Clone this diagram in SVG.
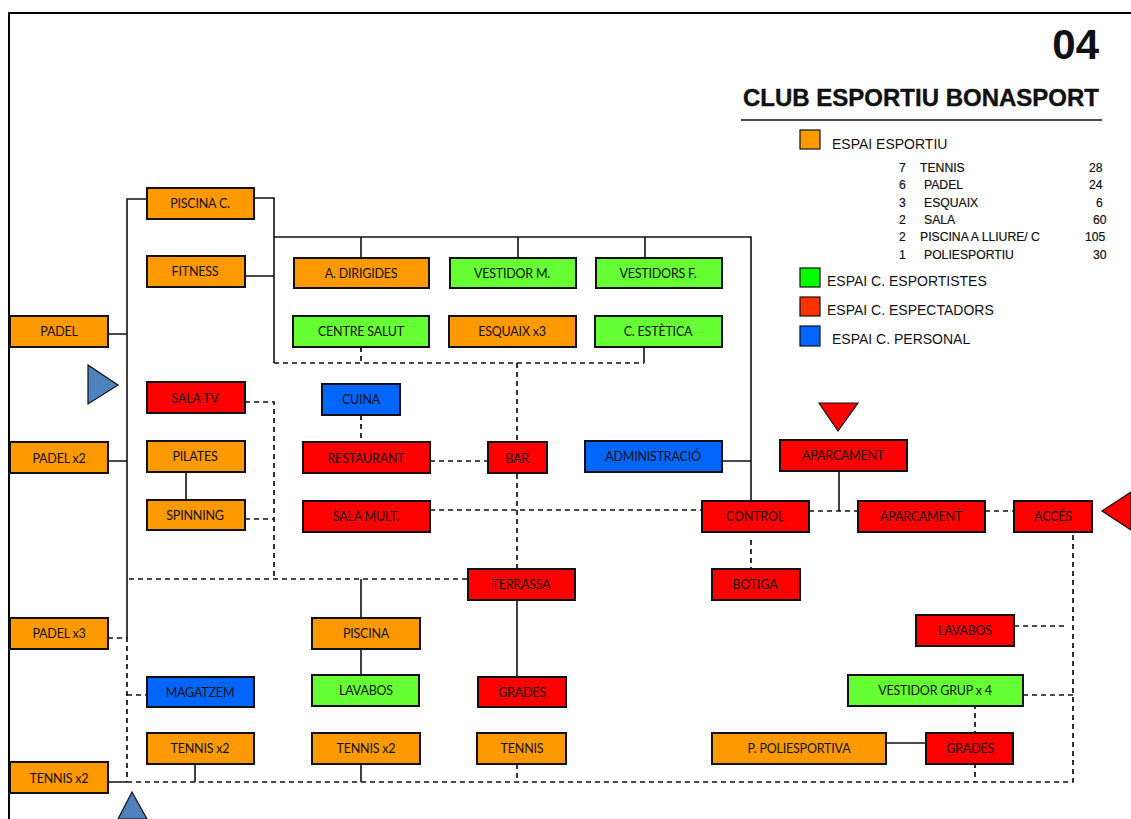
<svg xmlns="http://www.w3.org/2000/svg" width="1131" height="819" viewBox="0 0 1131 819">
<style>
.n{stroke:#111;stroke-width:2}
.o{fill:#ff9900}.g{fill:#66ff33}.r{fill:#ff0000}.b{fill:#0066ff}
.t{font:12.5px Lato,"Liberation Sans",sans-serif;letter-spacing:-.2px;fill:#111;text-anchor:middle}
.h{font-family:"Liberation Sans",Arial,sans-serif;fill:#111}
.l{font-size:14px}.s{font-size:12.2px;stroke:#111;stroke-width:.2}
.c{fill:none;stroke:#111;stroke-width:1.6}
.d{fill:none;stroke:#111;stroke-width:1.7;stroke-dasharray:5 4}
</style>
<rect width="1131" height="819" fill="#fff"/>
<path d="M9 819V13H1131" fill="none" stroke="#000" stroke-width="2"/>
<g id="title">
<text class="h" x="1099" y="59" text-anchor="end" font-size="42" font-weight="bold" fill="#000">04</text>
<text class="h" x="1099" y="106" text-anchor="end" font-size="24" font-weight="bold" stroke="#111" stroke-width=".4">CLUB ESPORTIU BONASPORT</text>
<path d="M741 120H1102" stroke="#111" stroke-width="1.5"/>
</g>
<g id="legend">
<rect class="n o" x="800" y="130" width="20" height="19" style="stroke-width:1.2"/>
<text class="h l" x="832" y="149">ESPAI ESPORTIU</text>
<g class="h s">
<text x="899" y="172">7</text><text x="920" y="172">TENNIS</text><text x="1089" y="172">28</text>
<text x="899" y="189">6</text><text x="924" y="189">PADEL</text><text x="1089" y="189">24</text>
<text x="899" y="207">3</text><text x="924" y="207">ESQUAIX</text><text x="1096" y="207">6</text>
<text x="899" y="224">2</text><text x="924" y="224">SALA</text><text x="1093" y="224">60</text>
<text x="899" y="241">2</text><text x="920" y="241">PISCINA A LLIURE/ C</text><text x="1085" y="241">105</text>
<text x="899" y="259">1</text><text x="924" y="259">POLIESPORTIU</text><text x="1093" y="259">30</text>
</g>
<rect class="n" fill="#00ff00" x="800" y="268" width="20" height="19" style="stroke-width:1.2"/>
<text class="h l" x="827" y="286">ESPAI C. ESPORTISTES</text>
<rect class="n" fill="#ff3300" x="800" y="297" width="20" height="19" style="stroke-width:1.2"/>
<text class="h l" x="827" y="315">ESPAI C. ESPECTADORS</text>
<rect class="n b" x="800" y="326" width="20" height="20" style="stroke-width:1.2"/>
<text class="h l" x="832" y="344">ESPAI C. PERSONAL</text>
</g>
<g id="connectors">
<path class="c" d="M146 199H127V638M108 334H127M108 461H127"/>
<path class="c" d="M254 198H274V363M245 276H274M274 237H751V501M361 237V258M518 237V258M645 237V258M722 461H751"/>
<path class="d" d="M274 363H644M361 347V363M517 363V441"/>
<path class="c" d="M644 344V363"/>
<path class="d" d="M361 415V442M430 461H488M517 474V568M245 402H274V579M245 519H274M129 579H468M430 510H702M108 638H127V782M127 695H146"/>
<path class="c" d="M186 472V500M361 579V619M361 646V675M517 600V677M839 471V511M108 782H127M195 764V782M361 764V782M887 743H926"/>
<path class="d" d="M127 782H1073V529M517 764V782M975 763V782M975 704V733M809 511H858M985 511H1014M751 540V569M1014 626H1064M1023 695H1073"/>
</g>
<g id="nodes">
<g id="n1"><rect class="n o" x="147" y="188" width="107" height="31"/><text class="t" x="200" y="208">PISCINA C.</text></g>
<g id="n2"><rect class="n o" x="147" y="256" width="98" height="31"/><text class="t" x="195" y="276">FITNESS</text></g>
<g id="n3"><rect class="n o" x="294" y="258" width="135" height="30"/><text class="t" x="361" y="278">A. DIRIGIDES</text></g>
<g id="n4"><rect class="n g" x="450" y="258" width="126" height="30"/><text class="t" x="512" y="278">VESTIDOR M.</text></g>
<g id="n5"><rect class="n g" x="596" y="258" width="126" height="30"/><text class="t" x="658" y="278">VESTIDORS F.</text></g>
<g id="n6"><rect class="n o" x="10" y="316" width="98" height="31"/><text class="t" x="59" y="336">PADEL</text></g>
<g id="n7"><rect class="n g" x="293" y="316" width="136" height="31"/><text class="t" x="361" y="336">CENTRE SALUT</text></g>
<g id="n8"><rect class="n o" x="449" y="316" width="127" height="31"/><text class="t" x="512" y="336">ESQUAIX x3</text></g>
<g id="n9"><rect class="n g" x="595" y="316" width="127" height="31"/><text class="t" x="658" y="336">C. ESTÈTICA</text></g>
<g id="n10"><rect class="n r" x="147" y="382" width="98" height="31"/><text class="t" x="195" y="403">SALA TV</text></g>
<g id="n11"><rect class="n b" x="322" y="384" width="78" height="31"/><text class="t" x="361" y="404">CUINA</text></g>
<g id="n12"><rect class="n o" x="10" y="442" width="98" height="31"/><text class="t" x="59" y="463">PADEL x2</text></g>
<g id="n13"><rect class="n o" x="147" y="441" width="98" height="31"/><text class="t" x="195" y="461">PILATES</text></g>
<g id="n14"><rect class="n r" x="303" y="442" width="127" height="31"/><text class="t" x="366" y="463">RESTAURANT</text></g>
<g id="n15"><rect class="n r" x="488" y="442" width="59" height="31"/><text class="t" x="517" y="463">BAR</text></g>
<g id="n16"><rect class="n b" x="585" y="441" width="137" height="31"/><text class="t" x="653" y="461">ADMINISTRACIÓ</text></g>
<g id="n17"><rect class="n r" x="780" y="440" width="127" height="31"/><text class="t" x="843" y="460">APARCAMENT</text></g>
<g id="n18"><rect class="n o" x="147" y="500" width="98" height="30"/><text class="t" x="195" y="520">SPINNING</text></g>
<g id="n19"><rect class="n r" x="303" y="501" width="127" height="31"/><text class="t" x="366" y="521">SALA MULT.</text></g>
<g id="n20"><rect class="n r" x="702" y="501" width="107" height="31"/><text class="t" x="755" y="521">CONTROL</text></g>
<g id="n21"><rect class="n r" x="858" y="501" width="127" height="31"/><text class="t" x="921" y="521">APARCAMENT</text></g>
<g id="n22"><rect class="n r" x="1014" y="501" width="78" height="31"/><text class="t" x="1053" y="521">ACCÉS</text></g>
<g id="n23"><rect class="n r" x="468" y="569" width="107" height="31"/><text class="t" x="521" y="589">TERRASSA</text></g>
<g id="n24"><rect class="n r" x="712" y="569" width="88" height="31"/><text class="t" x="755" y="589">BOTIGA</text></g>
<g id="n25"><rect class="n r" x="916" y="615" width="98" height="31"/><text class="t" x="965" y="635">LAVABOS</text></g>
<g id="n26"><rect class="n o" x="10" y="618" width="98" height="31"/><text class="t" x="59" y="638">PADEL x3</text></g>
<g id="n27"><rect class="n o" x="312" y="618" width="108" height="31"/><text class="t" x="366" y="638">PISCINA</text></g>
<g id="n28"><rect class="n b" x="147" y="677" width="107" height="30"/><text class="t" x="200" y="697">MAGATZEM</text></g>
<g id="n29"><rect class="n g" x="312" y="675" width="107" height="31"/><text class="t" x="366" y="695">LAVABOS</text></g>
<g id="n30"><rect class="n r" x="478" y="677" width="88" height="30"/><text class="t" x="522" y="697">GRADES</text></g>
<g id="n31"><rect class="n g" x="848" y="675" width="175" height="31"/><text class="t" x="935" y="695">VESTIDOR GRUP x 4</text></g>
<g id="n32"><rect class="n o" x="147" y="733" width="107" height="31"/><text class="t" x="200" y="753">TENNIS x2</text></g>
<g id="n33"><rect class="n o" x="312" y="733" width="108" height="31"/><text class="t" x="366" y="753">TENNIS x2</text></g>
<g id="n34"><rect class="n o" x="477" y="733" width="89" height="31"/><text class="t" x="522" y="753">TENNIS</text></g>
<g id="n35"><rect class="n o" x="712" y="733" width="174" height="31"/><text class="t" x="799" y="753">P. POLIESPORTIVA</text></g>
<g id="n36"><rect class="n r" x="926" y="733" width="87" height="31"/><text class="t" x="970" y="753">GRADES</text></g>
<g id="n37"><rect class="n o" x="10" y="762" width="98" height="31"/><text class="t" x="59" y="783">TENNIS x2</text></g>
</g>
<g id="arrows" stroke="#111" stroke-width="1.2">
<path d="M88 365L118 385L88 404Z" fill="#4f81bd"/>
<path d="M132 792L147 819H118Z" fill="#4f81bd"/>
<path d="M819 403H858L838 431Z" fill="#ff0000"/>
<path d="M1131 492L1102 511L1131 530Z" fill="#ff0000"/>
</g>
</svg>
